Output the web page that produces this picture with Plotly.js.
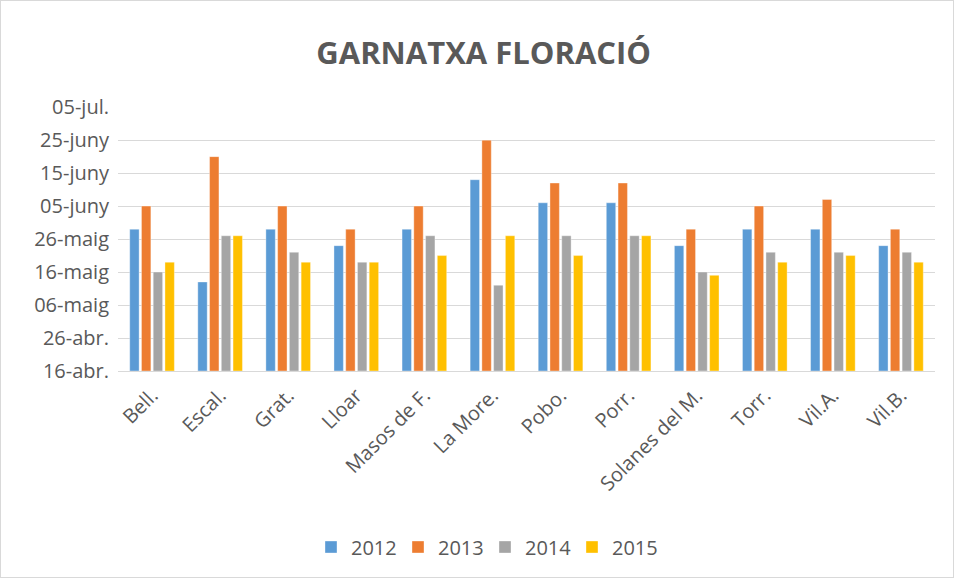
<!DOCTYPE html>
<html>
<head>
<meta charset="utf-8">
<script src="https://cdn.plot.ly/plotly-3.0.1.min.js"></script>
<style>
  html, body { margin: 0; padding: 0; background: #fff; }
  #wrap { position: relative; width: 954px; height: 578px; }
  #chart { width: 954px; height: 578px; }
  #frame { position: absolute; left: 0; top: 0; width: 954px; height: 578px; box-sizing: border-box; border: 1px solid #d9d9d9; pointer-events: none; }
</style>
</head>
<body>
<div id="wrap"><div id="chart"></div><div id="frame"></div></div>
<script>
// Categories (localities)
const categories = ['Bell.', 'Escal.', 'Grat.', 'Lloar', 'Masos de F.', 'La More.', 'Pobo.', 'Porr.', 'Solanes del M.', 'Torr.', 'Vil.A.', 'Vil.B.'];

// Flowering dates (month-day) per year
const s2012 = ['05-29', '05-13', '05-29', '05-24', '05-29', '06-13', '06-06', '06-06', '05-24', '05-29', '05-29', '05-24'];
const s2013 = ['06-05', '06-20', '06-05', '05-29', '06-05', '06-25', '06-12', '06-12', '05-29', '06-05', '06-07', '05-29'];
const s2014 = ['05-16', '05-27', '05-22', '05-19', '05-27', '05-12', '05-27', '05-27', '05-16', '05-22', '05-22', '05-22'];
const s2015 = ['05-19', '05-27', '05-19', '05-19', '05-21', '05-27', '05-21', '05-27', '05-15', '05-19', '05-21', '05-19'];

const seriesNames = ['2012', '2013', '2014', '2015'];
const seriesColors = ['#5B9BD5', '#ED7D31', '#A5A5A5', '#FFC000'];

// Y axis ticks
const tickDates = ['04-16', '04-26', '05-06', '05-16', '05-26', '06-05', '06-15', '06-25', '07-05'];
const tickLabels = ['16-abr.', '26-abr.', '06-maig', '16-maig', '26-maig', '05-juny', '15-juny', '25-juny', '05-jul.'];

function dayOfYear(md) {
  const [m, d] = md.split('-').map(Number);
  const t = Date.UTC(2015, m - 1, d) - Date.UTC(2015, 0, 1);
  return Math.round(t / 86400000) + 1;
}

const allSeries = [s2012, s2013, s2014, s2015];
const baseDay = dayOfYear(tickDates[0]);
const topDay = dayOfYear(tickDates[tickDates.length - 1]);

const traces = allSeries.map((s, i) => ({
  type: 'bar',
  name: seriesNames[i],
  x: categories,
  y: s.map(v => dayOfYear(v) - baseDay),
  base: baseDay,
  marker: { color: seriesColors[i], line: { color: 'rgba(255,255,255,0.6)', width: 0.6 } },
  hoverinfo: 'x+name'
}));

const font = "'Open Sans', Lato, sans-serif";

const layout = {
  width: 954,
  height: 578,
  paper_bgcolor: '#ffffff',
  plot_bgcolor: '#ffffff',
  margin: { l: 118, r: 19, t: 107, b: 207 },
  font: { family: font, color: '#595959' },
  title: {
    text: '<b>GARNATXA FLORACIÓ</b>',
    font: { family: font, size: 31, color: '#595959' },
    x: 0.507, xanchor: 'center',
    y: 1 - 53 / 578, yref: 'container', yanchor: 'middle'
  },
  barmode: 'group',
  bargap: 0.31,
  bargroupgap: 0.2,
  xaxis: {
    type: 'category',
    tickangle: -45,
    tickfont: { family: font, size: 20, color: '#595959' },
    showgrid: false,
    showline: true,
    linecolor: '#d9d9d9',
    linewidth: 1,
    ticks: '',
    ticklabelstandoff: 4
  },
  yaxis: {
    range: [baseDay, topDay + 0.05],
    tickvals: tickDates.map(dayOfYear),
    ticktext: tickLabels,
    tickfont: { family: font, size: 20, color: '#595959' },
    showgrid: true,
    gridcolor: '#d9d9d9',
    gridwidth: 1,
    zeroline: false,
    showline: false,
    ticks: '',
    ticklabelstandoff: 8
  },
  showlegend: true,
  legend: {
    orientation: 'h',
    xref: 'container', x: 311 / 954, xanchor: 'left',
    yref: 'container', y: 1 - 547 / 578, yanchor: 'middle',
    font: { family: font, size: 20, color: '#595959' },
    traceorder: 'normal',
    itemwidth: 30,
    entrywidth: 42,
    entrywidthmode: 'pixels'
  }
};

Plotly.newPlot('chart', traces, layout, { displayModeBar: false, staticPlot: true });
</script>
</body>
</html>
